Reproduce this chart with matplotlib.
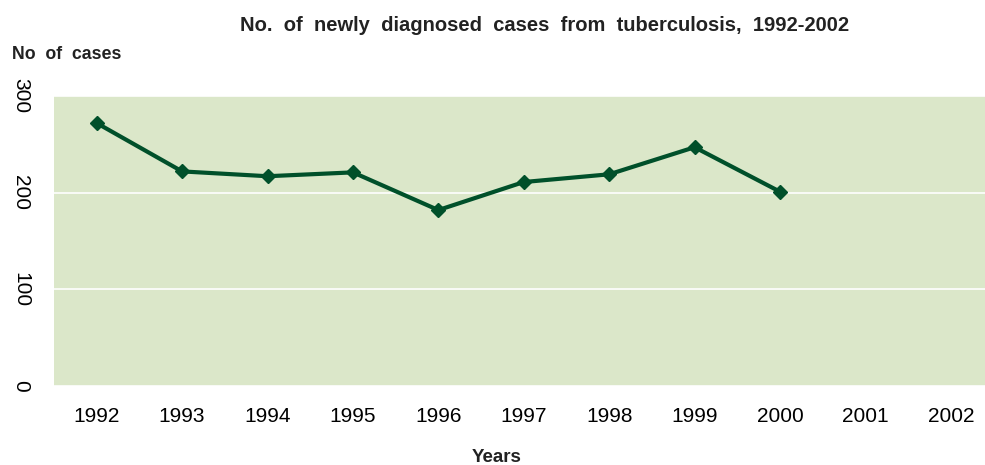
import matplotlib.pyplot as plt

years = ['1992', '1993', '1994', '1995', '1996', '1997', '1998', '1999', '2000', '2001', '2002']
cases = [272, 222, 217, 221, 182, 211, 219, 247, 201]
y_ticks = [0, 100, 200, 300]

plt.rcParams['font.family'] = ['Liberation Sans', 'DejaVu Sans']

fig = plt.figure(figsize=(9.85, 4.65), dpi=100)
ax = fig.add_axes([0.0548, 0.170, 0.9452, 0.6235])
ax.set_facecolor('#dbe7c9')

ax.plot(range(len(cases)), cases, color='#00502a', lw=3, marker='D', markersize=7)

ax.set_xlim(-0.5, 10.4)
ax.set_ylim(0, 300)
ax.set_xticks(range(len(years)))
ax.set_xticklabels(years)
ax.set_yticks(y_ticks)
ax.set_yticklabels([str(v) for v in y_ticks], rotation=-90, va='center')
ax.tick_params(axis='both', length=0, labelsize=15)
ax.tick_params(axis='x', pad=15)
ax.tick_params(axis='y', pad=17)
ax.grid(axis='y', color='white', lw=1.2)
ax.set_axisbelow(True)
for s in ax.spines.values():
    s.set_visible(False)

fig.text(0.553, 0.946, 'No.  of  newly  diagnosed  cases  from  tuberculosis,  1992-2002',
         ha='center', va='center', fontsize=14.5, fontweight='bold', color='#222222')
fig.text(0.012, 0.882, 'No  of  cases', ha='left', va='center', fontsize=12.8,
         fontweight='bold', color='#222222')
fig.text(0.504, 0.017, 'Years', ha='center', va='center', fontsize=13.5,
         fontweight='bold', color='#222222')

fig.savefig('out.png', dpi=100)
